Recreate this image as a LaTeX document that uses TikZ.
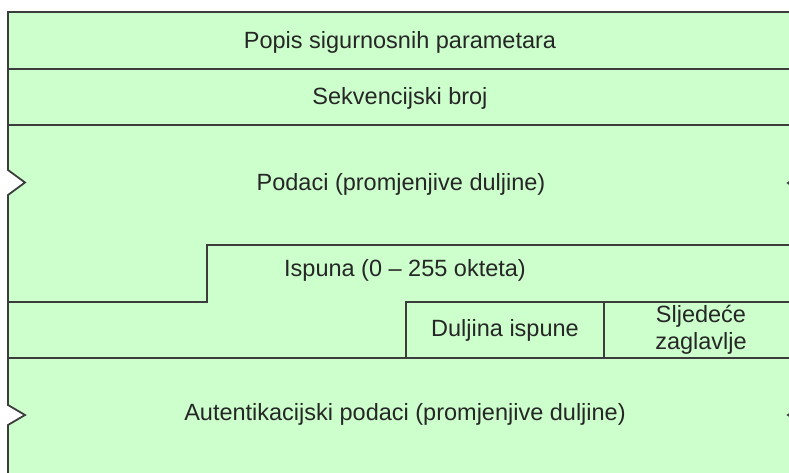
\documentclass[tikz,border=0pt]{standalone}
\usepackage{fontspec}
\setmainfont{Liberation Sans}
\definecolor{fillgreen}{RGB}{204,255,204}
\definecolor{linegray}{RGB}{60,60,60}
\begin{document}
\begin{tikzpicture}[x=1pt,y=-1pt,
  frame/.style={draw=linegray,line width=1.8pt,line join=miter},
  lbl/.style={font=\fontsize{23.5}{27}\selectfont,text=black!85,inner sep=0pt,align=center}]
\useasboundingbox (0,0) rectangle (789,473);
\clip (0,0) rectangle (789,473);
% main green body with notches
\path[fill=fillgreen] (8,12) -- (806,12) -- (806,170) -- (788,183) -- (806,196)
  -- (806,403) -- (788,415) -- (806,427) -- (806,480) -- (8,480)
  -- (8,425) -- (25,415) -- (8,405) -- (8,195) -- (25,182.5) -- (8,170) -- cycle;
% outer border
\draw[frame] (8,480) -- (8,425) -- (25,415) -- (8,405) -- (8,195) -- (25,182.5) -- (8,170) -- (8,12) -- (806,12);
\draw[frame] (806,170) -- (788,183) -- (806,196);
\draw[frame] (806,403) -- (788,415) -- (806,427);
% row separators
\coordinate (r1l) at (8,69);  \coordinate (r1r) at (806,69);
\coordinate (r2l) at (8,125); \coordinate (r2r) at (806,125);
\draw[frame] (r1l) -- (r1r);
\draw[frame] (r2l) -- (r2r);
% step line of padding
\coordinate (s1) at (8,302); \coordinate (s2) at (207,302);
\coordinate (s3) at (207,245); \coordinate (s4) at (806,245);
\draw[frame] (s1) -- (s2) -- (s3) -- (s4);
% padding length / next header boxes
\coordinate (b1) at (406,358); \coordinate (b2) at (406,302);
\coordinate (b3) at (806,302); \coordinate (b4) at (604,302); \coordinate (b5) at (604,358);
\draw[frame] (b1) -- (b2) -- (b3);
\draw[frame] (b4) -- (b5);
\coordinate (bl) at (8,358); \coordinate (br) at (806,358);
\draw[frame] (bl) -- (br);
% labels
\node[lbl] (spi) at (400,42) {Popis sigurnosnih parametara};
\node[lbl] (seq) at (400,98) {Sekvencijski broj};
\node[lbl] (data) at (401,184) {Podaci (promjenjive duljine)};
\node[lbl] (pad) at (405,270) {Ispuna (0 – 255 okteta)};
\node[lbl] (padlen) at (505,330) {Duljina ispune};
\node[lbl,font=\fontsize{23.5}{27}\selectfont] (next) at (701,330) {Sljedeće\\zaglavlje};
\node[lbl] (auth) at (405,414) {Autentikacijski podaci (promjenjive duljine)};
\end{tikzpicture}
\end{document}
